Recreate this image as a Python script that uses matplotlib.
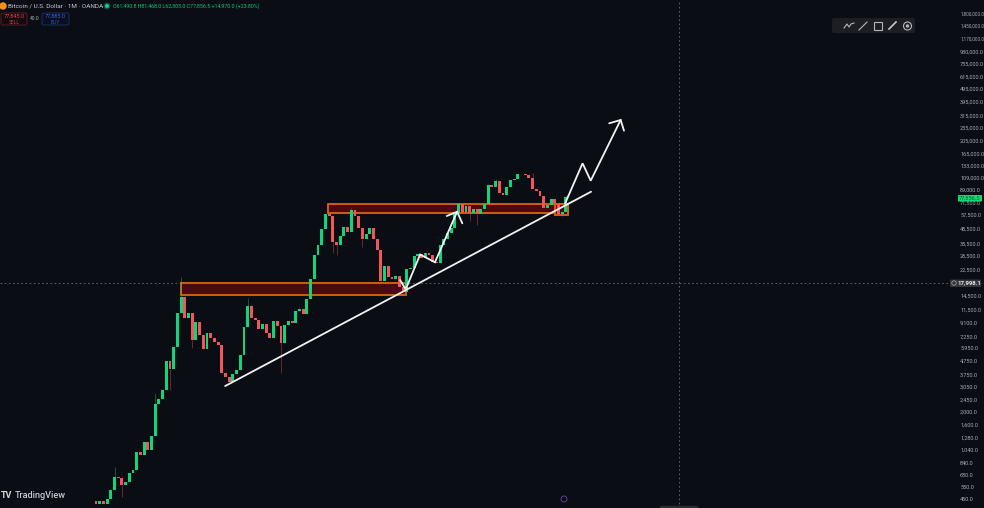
import numpy as np
import matplotlib
matplotlib.use("Agg")
import matplotlib.pyplot as plt
from matplotlib.patches import Rectangle, FancyBboxPatch, Circle
from matplotlib.ticker import NullLocator

plt.rcParams['font.family'] = ['Roboto', 'DejaVu Sans']

# monthly candles, each one opens where the one before closed
first_open = 438
closes = [
    414, 433, 414, 453, 526, 660, 645, 570, 603, 699, 740, 1006, 961, 1193, 1040, 1321,
    2282, 2498, 2898, 4730, 4168, 6070, 10730, 14245, 9855, 10840, 6800, 9300, 7410, 5810,
    7710, 7000, 6610, 6250, 3895, 3636, 3340, 3810, 4077, 5240, 8450, 12160, 9900, 9570,
    8170, 8940, 7630, 7040, 9360, 8640, 6430, 8740, 9360, 9050, 11215, 11610, 10600, 13630,
    19370, 28880, 34430, 45470, 58440, 56780, 36430, 34430, 40350, 46820, 43200, 62260, 56780, 46260,
    38160, 41760, 45790, 38160, 31610, 18630, 23940, 19940, 19270, 20390, 16900, 15520, 22860, 23250,
    28530, 29540, 27430, 29880, 28880, 25900, 25450, 34430, 37940, 42030, 45790, 59150, 68960, 60790,
    67340, 59760, 63990, 58440, 63990, 68960, 96370, 92160, 102150, 83230, 80800, 93150, 104440, 106800,
    115690, 115000, 113150, 108600, 90000, 87000, 80000, 64750, 67800, 75890, 70150, 58440, 60790, 77856.5,
]
high_wicks = {5: 778, 16: 2770, 23: 19850, 41: 13860, 69: 64400, 108: 106000, 118: 118000, 127: 81468}
low_wicks = {7: 470, 16: 1837, 20: 2900, 26: 5950, 50: 3850, 64: 29900, 65: 28800, 72: 33450,
             101: 52000, 103: 48450, 126: 56480}

# price scale
price_ticks = [1800000, 1450000, 1170000, 930000, 755000, 615000, 495000, 395000, 315000, 255000,
               205000, 165000, 133000, 109000, 89000, 71500, 57500, 45500, 35500, 28500, 22500,
               14500, 11500, 9100, 7250, 5950, 4750, 3750, 3050, 2450, 2000, 1600, 1280, 1040,
               840, 680, 550, 450]

# drawn zones: bar from, bar to, price high, price low
zones = [
    (22.9, 83.8, 18090, 14590),
    (62.6, 127.6, 68960, 59150),
    (124.0, 127.6, 68960, 57450),
]

# drawn lines: bar index, price
trend_x = [34.9, 133.8]
trend_y = [3100, 85500]
swing_x = [82.2, 83.7, 87.6, 91.6, 97.6]
swing_y = [18930, 16160, 29280, 25630, 60790]
swing_head_x = [94.8, 97.6, 99.0]
swing_head_y = [56480, 60790, 49870]
target_x = [126.8, 131.5, 133.7, 141.8]
target_y = [70150, 138900, 103200, 290900]
target_head_x = [138.7, 141.8, 142.7]
target_head_y = [274900, 290900, 242300]

last_price = 77856.5
cross_price = 17998.1
cross_bar = 157.6

BG = '#0a0d14'
GREEN = '#0fd67c'
RED = '#f2555a'
ORANGE = '#dd650f'

fig = plt.figure(figsize=(9.84, 5.08), dpi=100, facecolor=BG)
ax = fig.add_axes([0, 0, 1, 1], facecolor=BG)
ax.set_yscale('log')
ax.set_xlim(-25.95, 240)
ax.set_ylim(386.7, 2255000)

closes = np.array(closes, dtype=float)
opens = np.concatenate([[first_open], closes[:-1]])
idx = np.arange(len(closes))
colors = [GREEN if c >= o else RED for o, c in zip(opens, closes)]
tops = np.maximum(opens, closes)
bottoms = np.minimum(opens, closes)

for z in zones:
    ax.add_patch(Rectangle((z[0], z[3]), z[1] - z[0], z[2] - z[3], facecolor='#4c0a10',
                           edgecolor=ORANGE, linewidth=1.3, zorder=2))

# wicks are dim in the reference
for i, h in high_wicks.items():
    ax.vlines(i, tops[i], h, color=colors[i], linewidth=0.6, alpha=0.45, zorder=3)
for i, l in low_wicks.items():
    ax.vlines(i, l, bottoms[i], color=colors[i], linewidth=0.6, alpha=0.45, zorder=3)
ax.bar(idx, tops - bottoms, bottom=bottoms, width=0.78, color=colors, linewidth=0, zorder=4)

white = dict(color='#f2f2f2', linewidth=1.3, zorder=6, solid_capstyle='round', solid_joinstyle='miter')
ax.plot(trend_x, trend_y, **white)
ax.plot(swing_x, swing_y, **white)
ax.plot(swing_head_x, swing_head_y, **white)
ax.plot(target_x, target_y, **white)
ax.plot(target_head_x, target_head_y, **white)

ax.axhline(cross_price, color='#6b6e75', linewidth=0.6, dashes=(2, 3), zorder=1)
ax.axvline(cross_bar, color='#6b6e75', linewidth=0.6, dashes=(2, 3), zorder=1)

ax.yaxis.tick_right()
ax.set_yticks(price_ticks)
ax.set_yticklabels([f'{p:,.1f}' for p in price_ticks])
ax.yaxis.set_minor_locator(NullLocator())
ax.tick_params(axis='y', length=0, pad=-17.2, labelsize=4.0, labelcolor='#a9abb0')
# the three seven figure labels would run off the edge
for lbl in ax.get_yticklabels()[:3]:
    lbl.set_fontsize(3.4)
ax.set_xticks([])
for s in ax.spines.values():
    s.set_visible(False)

# overlay in pixels for the TradingView interface around the chart
ui = fig.add_axes([0, 0, 1, 1], facecolor='none')
ui.set_xlim(0, 984)
ui.set_ylim(508, 0)
ui.axis('off')

# header
ui.add_patch(Circle((3, 6), 3, color='#f7931a'))
ui.text(8, 6, 'Bitcoin / U.S. Dollar · 1M · OANDA', color='#c8c9cc', fontsize=4.6, va='center')
ui.add_patch(Circle((107, 6), 2.8, color='#0b4d3a'))
ui.add_patch(Circle((107, 6), 1.3, color='#22c5a0'))
ui.text(113, 6, 'O61,490.8 H81,468.0 L62,303.0 C77,856.5 +14,970.0 (+23.80%)', color='#10c878',
        fontsize=3.8, va='center')
ui.add_patch(FancyBboxPatch((1, 13), 26, 12, boxstyle='round,pad=0,rounding_size=2',
                            facecolor='#120c12', edgecolor='#5d1a20', linewidth=0.7))
ui.text(14, 16, '77,845.0', color='#e8404a', fontsize=4, ha='center', va='center')
ui.text(14, 22, 'SELL', color='#c23a42', fontsize=3.6, ha='center', va='center')
ui.text(34.5, 19, '40.0', color='#b0b2b6', fontsize=3.6, ha='center', va='center')
ui.add_patch(FancyBboxPatch((42, 13), 27, 12, boxstyle='round,pad=0,rounding_size=2',
                            facecolor='#0b0e1c', edgecolor='#1c2c6a', linewidth=0.7))
ui.text(55.5, 16, '77,885.0', color='#3a62e8', fontsize=4, ha='center', va='center')
ui.text(55.5, 22, 'BUY', color='#3452b8', fontsize=3.6, ha='center', va='center')

# drawing toolbar
ui.add_patch(FancyBboxPatch((832, 18), 83, 15, boxstyle='round,pad=0,rounding_size=2',
                            facecolor='#1c1e24', edgecolor='none'))
tool = dict(color='#b5b6ba', linewidth=0.8)
ui.plot([844, 847, 849, 851, 854], [28, 24, 27, 24, 23], **tool)
ui.plot([859, 867], [30, 22], **tool)
ui.add_patch(Rectangle((874, 22), 7.5, 7.5, fill=False, edgecolor='#b5b6ba', linewidth=0.8))
ui.plot([889, 896], [29, 22], color='#c8c9cc', linewidth=1.2)
ui.add_patch(Circle((907.5, 26), 4, fill=False, edgecolor='#b5b6ba', linewidth=0.8))
ui.add_patch(Circle((907.5, 26), 1, color='#b5b6ba'))

# price labels
ui.add_patch(FancyBboxPatch((958, 195), 24, 6.5, boxstyle='round,pad=0,rounding_size=0.8',
                            facecolor='#10dc74', edgecolor='none', zorder=5))
ui.text(970, 198.3, f'{last_price:,.1f}', color='#0a5a34', fontsize=4.1, ha='center', va='center', zorder=6)
ui.add_patch(FancyBboxPatch((950, 279.5), 31, 7.5, boxstyle='round,pad=0,rounding_size=1',
                            facecolor='#33353b', edgecolor='none'))
ui.add_patch(Circle((954, 283), 2.2, fill=False, edgecolor='#a9abb0', linewidth=0.5))
ui.text(969.5, 283.2, f'{cross_price:,.1f}', color='#e8e8ea', fontsize=4.3, fontweight='bold',
        ha='center', va='center')

# logo and small marks at the bottom
ui.text(1, 496, 'TV', color='#d8d8da', fontsize=6.5, fontweight='bold', va='center')
ui.text(15, 496, 'TradingView', color='#c8c9cc', fontsize=6.6, fontweight='medium', va='center')
ui.add_patch(Circle((564, 499), 3, fill=False, edgecolor='#6a3a9a', linewidth=0.7))
ui.add_patch(Rectangle((660, 506), 37, 2, color='#2a2c32'))

fig.savefig('out.png', dpi=100, facecolor=BG)
